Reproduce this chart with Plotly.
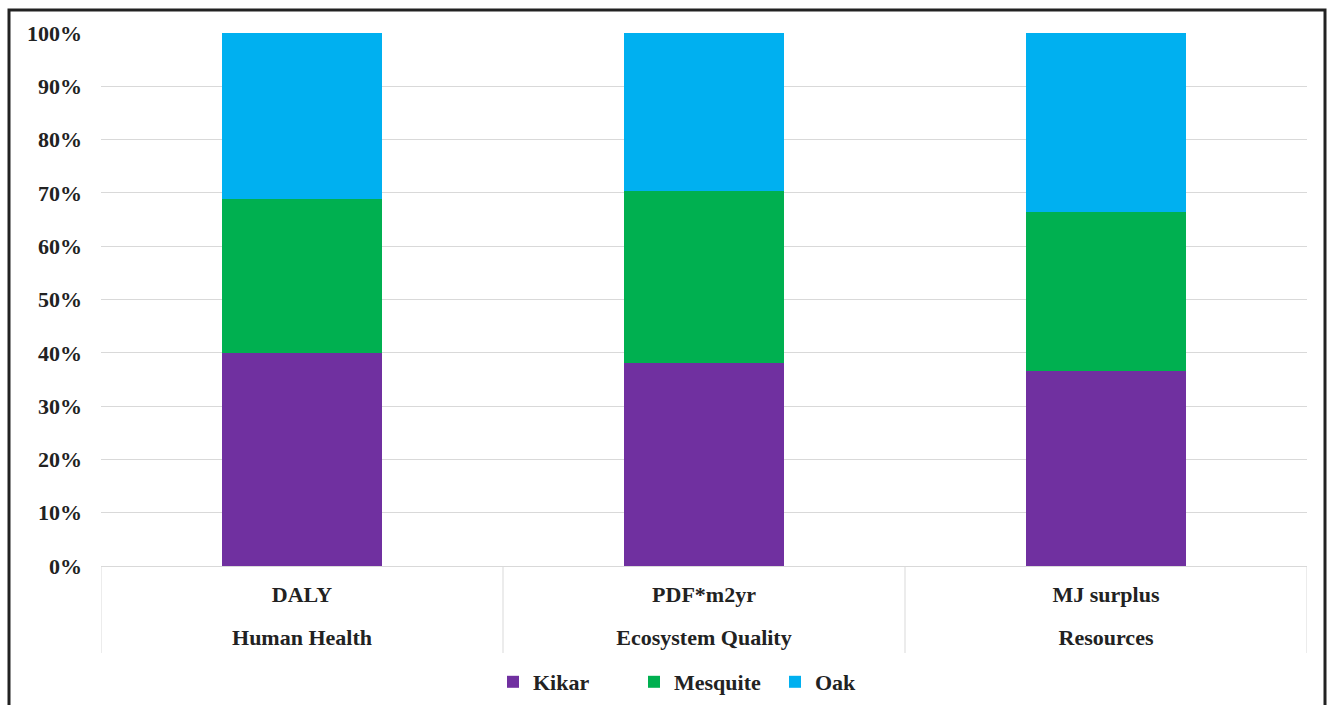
import plotly.graph_objects as go

units = ["DALY", "PDF*m2yr", "MJ surplus"]
categories = ["Human Health", "Ecosystem Quality", "Resources"]
series_names = ["Kikar", "Mesquite", "Oak"]
kikar = [40.0, 38.1, 36.6]
mesquite = [28.9, 32.3, 29.8]
oak = [31.1, 29.6, 33.6]
colors = ["#7030A0", "#00B050", "#00B0F0"]
y_ticks = [0, 10, 20, 30, 40, 50, 60, 70, 80, 90, 100]

font_family = "Liberation Serif, Times New Roman, serif"
txt = dict(family=font_family, size=22, color="#222222", weight="bold")

# figure geometry in page pixels
W, H = 1328, 705
ML, MR, MT, MB = 101, 21, 33, 2
paper_h = H - MT - MB
plot_bottom = 566              # px of 0%
ydom0 = (H - MB - plot_bottom) / paper_h


def py(y):
    return (H - MB - y) / paper_h


def px(x):
    return (x - ML) / (W - ML - MR)


fig = go.Figure()
for name, vals, col in zip(series_names, [kikar, mesquite, oak], colors):
    fig.add_trace(go.Bar(
        x=units, y=vals, name=name,
        marker=dict(color=col, line=dict(width=0)),
    ))
# carrier for the second row of category labels
fig.add_trace(go.Scatter(x=categories, y=[None] * len(categories), xaxis="x2", yaxis="y",
                         showlegend=False, hoverinfo="skip", mode="markers"))

dividers = [dict(type="line", xref="x", yref="paper", x0=i - 0.5, x1=i - 0.5,
                 y0=ydom0, y1=py(653), line=dict(color="#d9d9d9", width=1))
            for i in range(len(units) + 1)]

fig.update_layout(
    barmode="stack",
    barnorm="percent",
    bargap=0.6,
    width=W, height=H,
    margin=dict(l=ML, r=MR, t=MT, b=MB, autoexpand=False),
    paper_bgcolor="white", plot_bgcolor="white",
    font=txt,
    showlegend=True,
    legend=dict(orientation="h", x=px(493), xanchor="left", y=py(682), yanchor="middle",
                font=txt, itemwidth=30, entrywidth=96, traceorder="normal"),
    xaxis=dict(type="category", range=[-0.5, 2.5], showgrid=False, showline=True,
               linecolor="#d9d9d9", linewidth=1, ticks="", tickfont=txt,
               ticklabelstandoff=9, automargin=False),
    xaxis2=dict(type="category", range=[-0.5, 2.5], overlaying="x", anchor="free",
                position=py(622), side="bottom", showgrid=False, showline=False,
                ticks="", tickfont=txt, automargin=False),
    yaxis=dict(domain=[ydom0, 1], range=[0, 100], tickvals=y_ticks,
               ticktext=[f"{v}%" for v in y_ticks],
               showgrid=True, gridcolor="#d9d9d9", gridwidth=1, zeroline=False,
               ticklabelstandoff=18, tickfont=txt, automargin=False),
    shapes=dividers + [dict(type="rect", xref="paper", yref="paper",
                            x0=px(9), x1=px(1325), y0=py(730), y1=py(10),
                            line=dict(color="#222222", width=3),
                            fillcolor="rgba(0,0,0,0)", layer="above")],
)

fig.write_html("out.html", config={"displayModeBar": False},
               post_script="document.body.style.margin='0';document.body.style.overflow='hidden';")
